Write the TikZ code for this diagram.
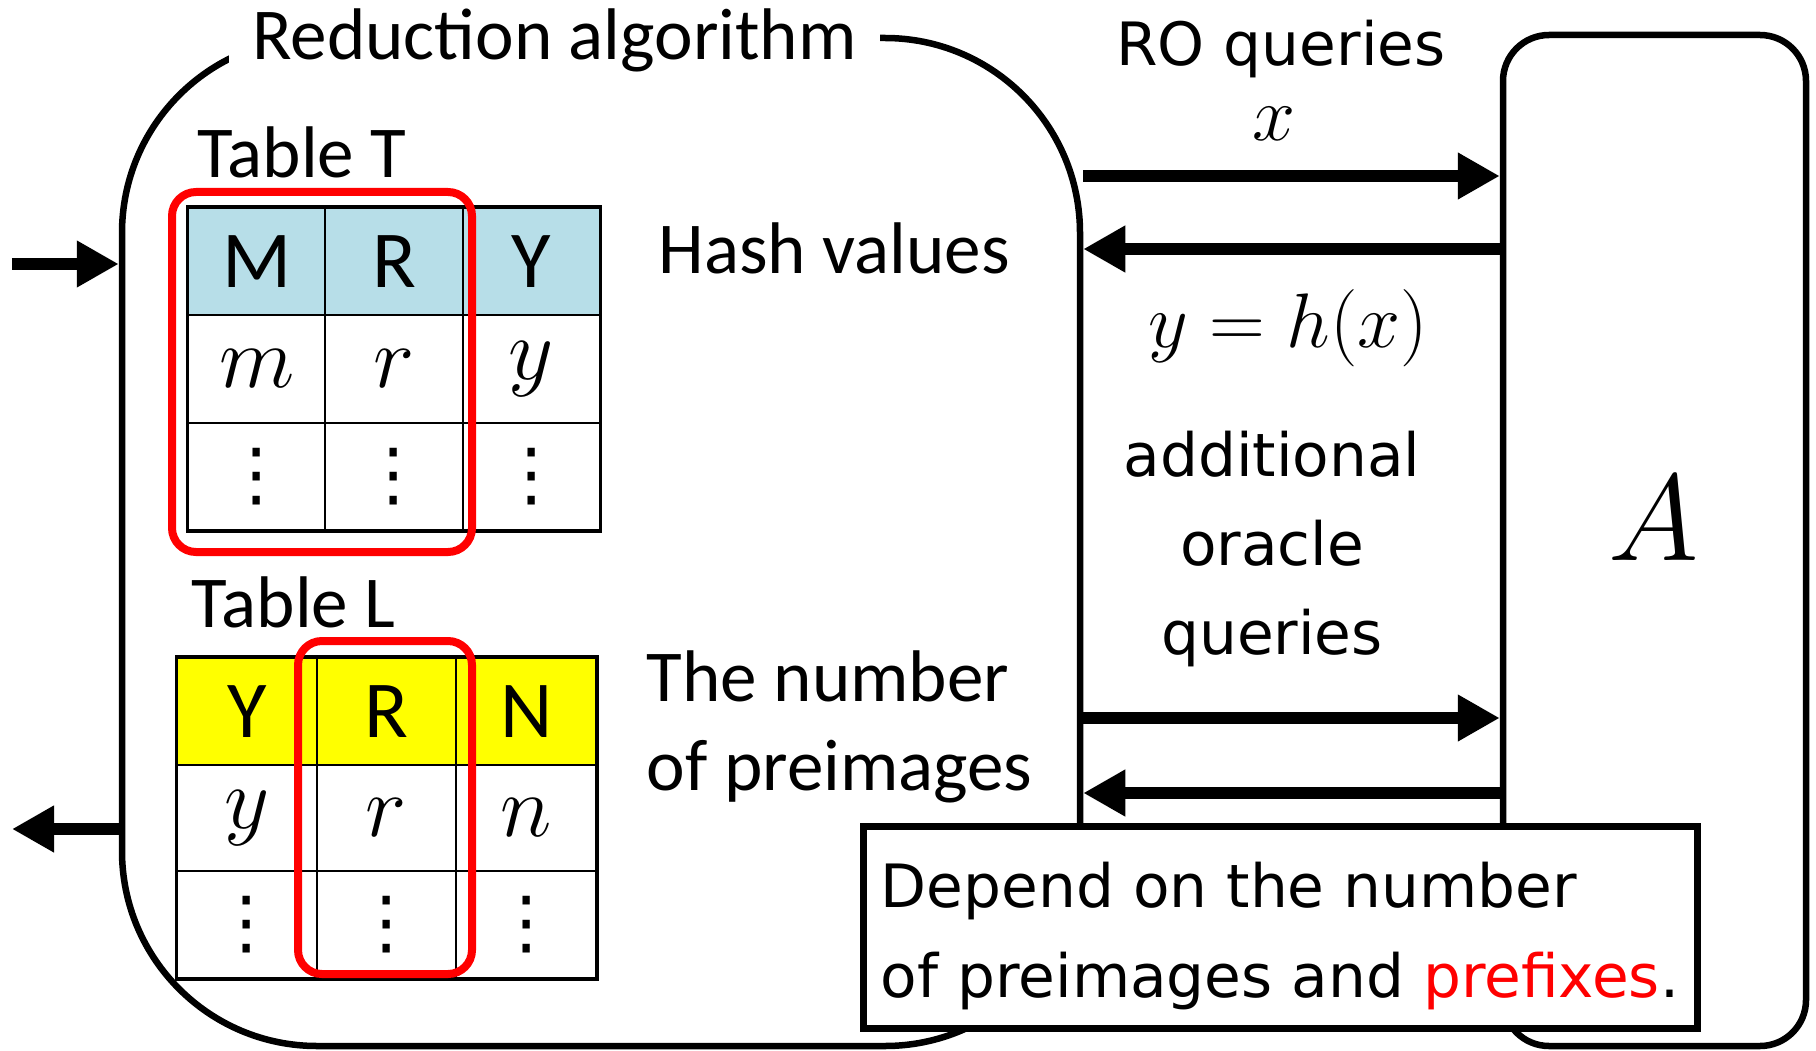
\RequirePackage{fix-cm}
\documentclass[tikz,border=0pt]{standalone}
\usepackage{fontspec}
\setmainfont{Carlito}
\newfontfamily\sidesans{DejaVu Sans}
\usepackage{tikz}
\usetikzlibrary{arrows.meta}
\definecolor{headBlue}{HTML}{B7DEE8}
\definecolor{headYellow}{HTML}{FFFF00}
\definecolor{markRed}{HTML}{FF0000}
\newcommand{\bodysize}{\fontsize{20.8}{25.2}\selectfont}
\newcommand{\headsize}{\fontsize{23}{23}\selectfont}
\newcommand{\mathsize}{\fontsize{25}{25}\selectfont}
\newcommand{\sidesize}{\sidesans\fontsize{17}{25.2}\selectfont}
\newcommand{\notesize}{\sidesans\fontsize{17}{25.6}\selectfont}
\newcommand{\dotcol}{{\sidesans\fontsize{20}{20}\selectfont ⋮}}

\begin{document}
\begin{tikzpicture}[
  frame/.style={draw,line width=0.065cm},
  flow/.style={line width=0.12cm,-{Triangle[length=0.42cm,width=0.44cm]}},
  cellT/.style={draw,line width=0.02cm,minimum width=1.373cm,minimum height=1.075cm,inner sep=0pt},
  cellL/.style={cellT,minimum width=1.397cm,minimum height=1.067cm},
  redframe/.style={draw=markRed,line width=0.08cm,rounded corners=0.24cm}]
\useasboundingbox (0,0) rectangle (18.16,-10.51);
\node[frame,rounded corners=1.95cm,minimum width=9.58cm,minimum height=10.08cm] (alg) at (6.01,-5.42) {};
\node[fill=white,inner xsep=0.23cm,anchor=base,font=\bodysize] (algtitle) at (5.545,-0.60) {Reduction algorithm};
\node[frame,rounded corners=0.46cm,minimum width=3.03cm,minimum height=10.11cm] (adv) at (16.545,-5.405) {};
\node (advname) at (16.54,-5.18) {\fontsize{35}{35}\selectfont $A$};

\node[anchor=base west,inner sep=0pt,font=\bodysize] (tabTname) at (1.97,-1.78) {Table T};
\foreach \h [count=\i] in {M,R,Y}
  \node[cellT,fill=headBlue] (T1\i) at ({1.88+1.373*(\i-0.5)},-2.615) {\headsize \h};
\foreach \h [count=\i] in {m,r,y}
  \node[cellT] (T2\i) at ({1.88+1.373*(\i-0.5)},-3.69) {\mathsize $\h$};
\foreach \i in {1,2,3}
  \node[cellT] (T3\i) at ({1.88+1.373*(\i-0.5)},-4.765) {\dotcol};
\draw[line width=0.03cm] (T11.north west) rectangle (T33.south east);
\draw[redframe] (1.72,-1.92) rectangle (4.72,-5.52);
\node[anchor=base west,inner sep=0pt,font=\bodysize] (hashtext) at (6.58,-2.73) {Hash values};

\node[anchor=base west,inner sep=0pt,font=\bodysize] (tabLname) at (1.91,-6.27) {Table L};
\foreach \h [count=\i] in {Y,R,N}
  \node[cellL,fill=headYellow] (L1\i) at ({1.77+1.397*(\i-0.5)},-7.113) {\headsize \h};
\foreach \h [count=\i] in {y,r,n}
  \node[cellL] (L2\i) at ({1.77+1.397*(\i-0.5)},-8.18) {\mathsize $\h$};
\foreach \i in {1,2,3}
  \node[cellL] (L3\i) at ({1.77+1.397*(\i-0.5)},-9.247) {\dotcol};
\draw[line width=0.03cm] (L11.north west) rectangle (L33.south east);
\draw[redframe] (2.98,-6.41) rectangle (4.72,-9.74);
\node[anchor=west,inner sep=0pt,align=left,font=\bodysize] (counttext) at (6.46,-7.27) {The number\\of preimages};

\coordinate (lvA) at (0,-1.76);
\coordinate (lvB) at (0,-2.49);
\coordinate (lvC) at (0,-7.18);
\coordinate (lvD) at (0,-7.93);
\coordinate (inlet) at (0.12,-2.64);
\coordinate (outlet) at (0.12,-8.29);
\draw[flow] (alg.east |- lvA) -- (adv.west |- lvA);
\draw[flow] (adv.west |- lvB) -- (alg.east |- lvB);
\draw[flow] (alg.east |- lvC) -- (adv.west |- lvC);
\draw[flow] (adv.west |- lvD) -- (alg.east |- lvD);
\draw[flow] (inlet) -- (alg.west |- inlet);
\draw[flow] (alg.west |- outlet) -- (outlet);

\node[anchor=base,font=\sidesize] (roq) at (12.81,-0.66) {RO queries};
\node[anchor=base] (qx) at (12.74,-1.41) {\fontsize{22}{22}\selectfont $x$};
\node[anchor=base] (qhy) at (12.88,-3.47) {\fontsize{22}{22}\selectfont $y=h(x)$};
\node[align=center,font=\sidesize] (extraq) at (12.72,-5.49) {additional\\oracle\\queries};

\node[draw,line width=0.07cm,fill=white,minimum width=8.34cm,minimum height=2.02cm] (depbox) at (12.80,-9.27) {};
\node[align=left,font=\notesize] (depnote) at ([yshift=-0.09cm]depbox.center) {Depend on the number\\of preimages and \textcolor{markRed}{prefixes}.};
\end{tikzpicture}
\end{document}
